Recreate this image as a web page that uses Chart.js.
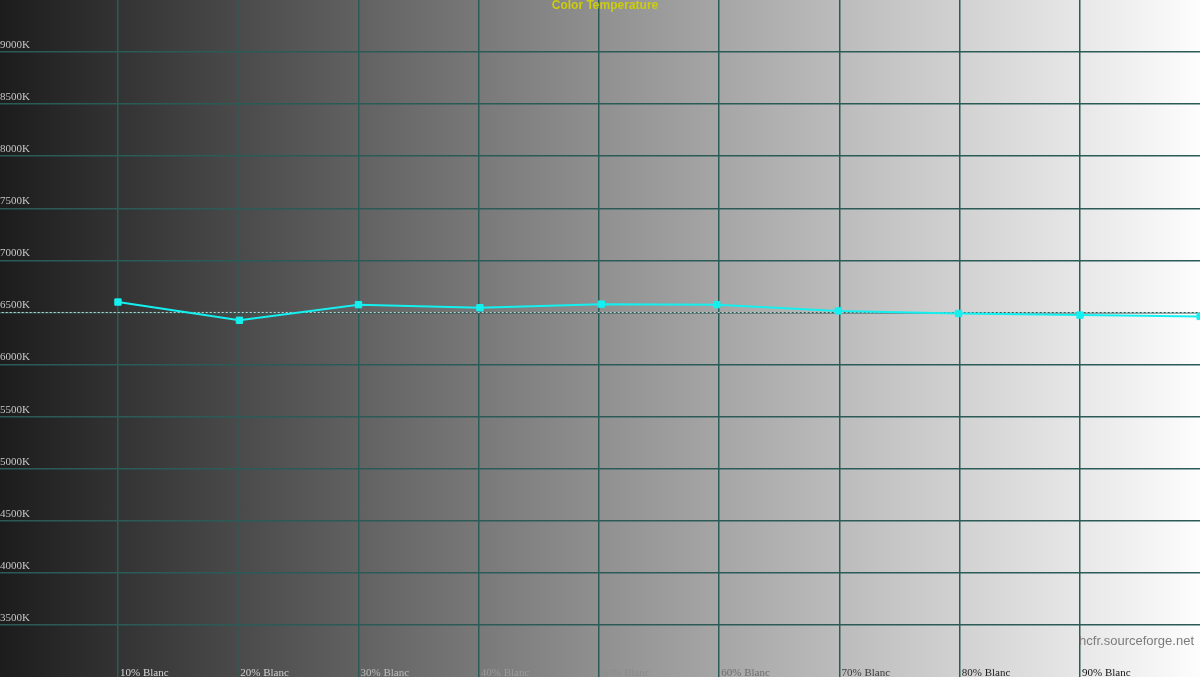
<!DOCTYPE html>
<html>
<head>
<meta charset="utf-8">
<script src="https://cdn.jsdelivr.net/npm/chart.js@4/dist/chart.umd.min.js"></script>
<style>
  html, body { margin: 0; padding: 0; width: 1200px; height: 677px; overflow: hidden; }
  #wrap { position: relative; width: 1200px; height: 677px;
          background: linear-gradient(to right, #1c1c1c 0%, #909090 50%, #fdfdfd 100%); }
  canvas { display: block; }
</style>
</head>
<body>
<div id="wrap"><canvas id="c" width="1200" height="677"></canvas></div>
<script>
// ---- data ----
const chartTitle = "Color Temperature";
const watermark = "hcfr.sourceforge.net";
const levelPercent = [10, 20.1, 30, 40.1, 50.2, 59.8, 69.9, 79.9, 90, 100];
const colorTempK = [6600, 6425, 6575, 6545, 6580, 6575, 6515, 6490, 6475, 6462];
const referenceK = 6500;
const xTickValues = [10, 20, 30, 40, 50, 60, 70, 80, 90];
const xTickLabels = ["10% Blanc", "20% Blanc", "30% Blanc", "40% Blanc", "50% Blanc",
                     "60% Blanc", "70% Blanc", "80% Blanc", "90% Blanc"];
const xTickColors = ["#d8d8d8", "#cfcfcf", "#bdbdbd", "#9a9a9a", "#8c8c8c",
                     "#6e6e6e", "#3a3a3a", "#222222", "#111111"];
const yTickValues = [3500, 4000, 4500, 5000, 5500, 6000, 6500, 7000, 7500, 8000, 8500, 9000];

const GRID = "#2a5b57";

const zeroFit = (s) => {
  if (s.isHorizontal()) s.height = 0; else s.width = 0;
  s.paddingTop = 0; s.paddingBottom = 0; s.paddingLeft = 0; s.paddingRight = 0;
};

const xLabelPlugin = {
  id: "xLabels",
  afterDraw(chart) {
    const ctx = chart.ctx, xs = chart.scales.x, area = chart.chartArea;
    ctx.save();
    ctx.font = "11px 'Liberation Serif', 'Times New Roman', serif";
    ctx.textAlign = "left";
    ctx.textBaseline = "alphabetic";
    xTickValues.forEach((v, i) => {
      ctx.fillStyle = xTickColors[i];
      ctx.fillText(xTickLabels[i], xs.getPixelForValue(v) + 2, area.bottom - 1);
    });
    // title
    ctx.font = "bold 12px 'Liberation Sans', Arial, sans-serif";
    ctx.fillStyle = "#cccc10";
    ctx.textAlign = "center";
    ctx.textBaseline = "middle";
    ctx.fillText(chartTitle, 605, 6);
    // watermark
    ctx.font = "13px 'Liberation Sans', Arial, sans-serif";
    ctx.fillStyle = "#7c7c7c";
    ctx.textAlign = "right";
    ctx.fillText(watermark, 1194, 641);
    ctx.restore();
  }
};

new Chart(document.getElementById("c"), {
  type: "line",
  data: {
    datasets: [
      {
        label: "Color temperature",
        data: levelPercent.map((x, i) => ({ x: x, y: colorTempK[i] })),
        borderColor: "#14f0f0",
        backgroundColor: "#14f0f0",
        borderWidth: 2,
        pointStyle: "rect",
        pointRadius: 4.5,
        pointBorderWidth: 1,
        tension: 0,
        clip: 6
      },
      {
        label: "Reference",
        data: [{ x: -1, y: referenceK }, { x: 101, y: referenceK }],
        borderColor: "rgba(235,235,235,0.85)",
        borderWidth: 1,
        borderDash: [2, 2],
        pointRadius: 0,
        tension: 0
      }
    ]
  },
  options: {
    responsive: false,
    animation: false,
    devicePixelRatio: 1,
    layout: { padding: 0, autoPadding: false },
    plugins: { legend: { display: false }, tooltip: { enabled: false }, title: { display: false } },
    scales: {
      x: {
        type: "linear",
        min: 0.19,
        max: 99.98,
        afterBuildTicks: (s) => { s.ticks = xTickValues.map(v => ({ value: v })); },
        afterFit: zeroFit,
        ticks: { display: false },
        grid: { color: GRID, lineWidth: 1.5, drawTicks: false },
        border: { display: false }
      },
      y: {
        type: "linear",
        min: 3000,
        max: 9500,
        afterBuildTicks: (s) => { s.ticks = yTickValues.map(v => ({ value: v })); },
        afterFit: zeroFit,
        ticks: {
          mirror: true,
          padding: 0,
          labelOffset: -7,
          color: "#c8c8c8",
          font: { family: "'Liberation Serif', 'Times New Roman', serif", size: 11 },
          callback: (v) => v + "K"
        },
        grid: { color: GRID, lineWidth: 1.5, drawTicks: false },
        border: { display: false }
      }
    }
  },
  plugins: [xLabelPlugin]
});
</script>
</body>
</html>
